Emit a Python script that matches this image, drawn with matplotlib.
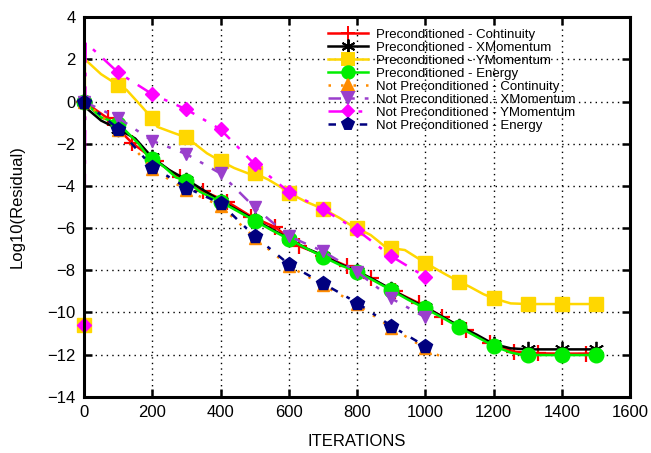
import matplotlib
matplotlib.use("Agg")
import matplotlib.pyplot as plt
from matplotlib.lines import Line2D

plt.rcParams['font.family'] = ['Liberation Sans', 'DejaVu Sans']

# ---- data ----
labels = ['Preconditioned - Continuity', 'Preconditioned - XMomentum',
          'Preconditioned - YMomentum', 'Preconditioned - Energy',
          'Not Preconditioned - Continuity', 'Not Preconditioned - XMomentum',
          'Not Preconditioned - YMomentum', 'Not Preconditioned - Energy']

it100 = [0, 100, 200, 300, 400, 500, 600, 700, 800, 900, 1000, 1100, 1200, 1300, 1400, 1500]

# Preconditioned - Continuity
pc_x = [0, 70, 140, 210, 280, 350, 420, 490, 560, 630, 700, 770, 840, 910, 980,
        1050, 1120, 1190, 1260, 1330, 1400, 1470, 1500]
pc_y = [0, -0.8, -1.95, -2.8, -3.6, -4.25, -4.75, -5.45, -5.95, -6.85, -7.3, -7.8,
        -8.38, -9.0, -9.55, -10.2, -10.85, -11.45, -11.86, -11.94, -11.95, -11.95, -11.95]

# Preconditioned - XMomentum
px_x = [0, 10, 50, 100, 150, 200, 250, 300, 350, 400, 450, 500, 550, 600, 650, 700,
        750, 800, 850, 900, 950, 1000, 1050, 1100, 1150, 1200, 1250, 1300, 1400, 1500]
px_y = [0, -0.35, -0.9, -1.3, -1.75, -2.65, -3.25, -3.7, -4.2, -4.7, -5.15, -5.6,
        -6.05, -6.5, -6.95, -7.3, -7.7, -8.05, -8.45, -8.9, -9.35, -9.75, -10.2,
        -10.65, -11.05, -11.5, -11.7, -11.75, -11.75, -11.75]
px_mark = [0, -1.3, -2.65, -3.7, -4.7, -5.6, -6.5, -7.3, -8.05, -8.9, -9.75, -10.65,
           -11.5, -11.75, -11.75, -11.75]

# Preconditioned - YMomentum
py_x = [0, 3, 50, 100, 125, 170, 200, 215, 265, 300, 330, 360, 400, 440, 480, 500,
        540, 575, 600, 650, 700, 750, 785, 800, 840, 880, 900, 940, 1000, 1060, 1100,
        1130, 1170, 1200, 1250, 1300, 1400, 1500]
py_y = [-10.6, 2.0, 1.3, 0.78, 0.55, -0.25, -0.8, -1.2, -1.5, -1.7, -2.07, -2.45,
        -2.82, -3.15, -3.4, -3.4, -3.7, -4.04, -4.32, -4.75, -5.08, -5.53, -5.9, -6.0,
        -6.33, -6.85, -6.95, -7.04, -7.65, -8.2, -8.55, -8.78, -9.13, -9.33, -9.57,
        -9.6, -9.6, -9.6]
py_mark = [-10.6, 0.78, -0.8, -1.7, -2.82, -3.4, -4.32, -5.08, -6.0, -6.95, -7.65,
           -8.55, -9.33, -9.6, -9.6, -9.6]

# Preconditioned - Energy
pe_x = [0, 50, 100, 125, 160, 185, 200, 235, 270, 300, 340, 400, 450, 500, 550, 600,
        650, 700, 750, 800, 850, 900, 950, 1000, 1050, 1100, 1150, 1200, 1250, 1280,
        1300, 1400, 1500]
pe_y = [0, -0.75, -1.04, -1.43, -2.0, -2.55, -2.7, -3.1, -3.6, -3.76, -4.28, -4.75,
        -5.2, -5.65, -6.1, -6.52, -6.95, -7.36, -7.75, -8.07, -8.5, -8.94, -9.4,
        -9.81, -10.25, -10.71, -11.15, -11.59, -11.9, -12.0, -12.02, -12.02, -12.02]
pe_mark = [0, -1.04, -2.7, -3.76, -4.75, -5.65, -6.52, -7.36, -8.07, -8.94, -9.81,
           -10.71, -11.59, -12.0, -12.02, -12.02]

# Not Preconditioned series
np_x = [0, 100, 200, 300, 400, 500, 600, 700, 800, 900, 1000]
nc_x = [0, 100, 200, 300, 400, 500, 600, 700, 800, 900, 1000, 1040]
nc_y = [0, -1.35, -3.2, -4.2, -4.95, -6.45, -7.8, -8.7, -9.62, -10.72, -11.7, -12.05]
nx_y = [0, -0.77, -1.86, -2.49, -3.41, -5.02, -6.38, -7.1, -8.07, -9.33, -10.23]
ny_x = [0, 5, 100, 200, 300, 400, 500, 600, 700, 800, 900, 1000]
ny_y = [-10.6, 2.8, 1.38, 0.35, -0.37, -1.32, -2.97, -4.28, -5.11, -6.09, -7.33, -8.31]
ny_mark_x = [0, 100, 200, 300, 400, 500, 600, 700, 800, 900, 1000]
ny_mark = [-10.6, 1.38, 0.35, -0.37, -1.32, -2.97, -4.28, -5.11, -6.09, -7.33, -8.31]
ne_y = [0, -1.28, -3.09, -4.08, -4.83, -6.38, -7.71, -8.62, -9.54, -10.64, -11.6]

colors = ['#ff0000', '#000000', '#ffd700', '#00ee00',
          '#ff8c00', '#9a3fcc', '#ff00ff', '#00007f']

fig = plt.figure(figsize=(6.51, 4.53), dpi=100)
ax = fig.add_axes([0.129, 0.124, 0.839, 0.838])

solid = dict(lw=1.8, solid_capstyle='round', solid_joinstyle='round')
styles = [(0, (1, 4)), (0, (5, 4, 1.5, 4)), (0, (8, 4, 1.5, 4)), (0, (3, 4, 1.5, 4))]

# line + markers (drawing order as in gnuplot)
ax.plot(pc_x, pc_y, color=colors[0], **solid)
ax.plot(pc_x, pc_y, ls='none', marker='+', ms=11, mew=1.6, color=colors[0], clip_on=False)

ax.plot(px_x, px_y, color=colors[1], **solid)
ax.plot(it100, px_mark, ls='none', marker=(6, 2, 0), ms=11, mew=1.3, color=colors[1], clip_on=False)

ax.plot(py_x, py_y, color=colors[2], **solid)
ax.plot(it100, py_mark, ls='none', marker='s', ms=10, color=colors[2], clip_on=False)

ax.plot(pe_x, pe_y, color=colors[3], **solid)
ax.plot(it100, pe_mark, ls='none', marker='o', ms=10.5, color=colors[3], clip_on=False)

ax.plot(nc_x, nc_y, color=colors[4], lw=1.8, ls=styles[0])
ax.plot(np_x, nc_y[:len(np_x)], ls='none', marker='^', ms=9, color=colors[4], clip_on=False)

ax.plot(np_x, nx_y, color=colors[5], lw=1.8, ls=styles[1])
ax.plot(np_x, nx_y, ls='none', marker='v', ms=9, color=colors[5], clip_on=False)

ax.plot(ny_x, ny_y, color=colors[6], lw=1.8, ls=styles[2])
ax.plot(ny_mark_x, ny_mark, ls='none', marker='D', ms=7.5, color=colors[6], clip_on=False)

ax.plot(np_x, ne_y, color=colors[7], lw=1.8, ls=styles[3])
ax.plot(np_x, ne_y, ls='none', marker='p', ms=10, color=colors[7], clip_on=False)

ax.set_xlim(0, 1600)
ax.set_ylim(-14, 4)
ax.set_xticks(range(0, 1601, 200))
ax.set_yticks(range(-14, 5, 2))
ax.grid(True, color='black', lw=1, ls=(0, (1, 3)))
ax.tick_params(direction='in', length=6, width=1.8, top=True, right=True,
               labelsize=12, pad=6)
for s in ax.spines.values():
    s.set_linewidth(2.2)
ax.set_xlabel('ITERATIONS', fontsize=12, labelpad=10)
ax.set_ylabel('Log10(Residual)', fontsize=12, labelpad=16)

markers = ['+', (6, 2, 0), 's', 'o', '^', 'v', 'D', 'p']
msizes = [10, 10, 9, 9, 8, 8, 6.5, 8.5]
lss = ['-', '-', '-', '-'] + styles
handles = [Line2D([], [], color=c, ls=l, lw=1.8, marker=m, ms=s, mew=1.4)
           for c, l, m, s in zip(colors, lss, markers, msizes)]
ax.legend(handles, labels, loc='upper left', bbox_to_anchor=(0.43, 0.995),
          frameon=False, fontsize=9.5, handlelength=3.0, handletextpad=0.6,
          labelspacing=0.06, borderpad=0.2, numpoints=1)

fig.savefig('out.png', dpi=100)
